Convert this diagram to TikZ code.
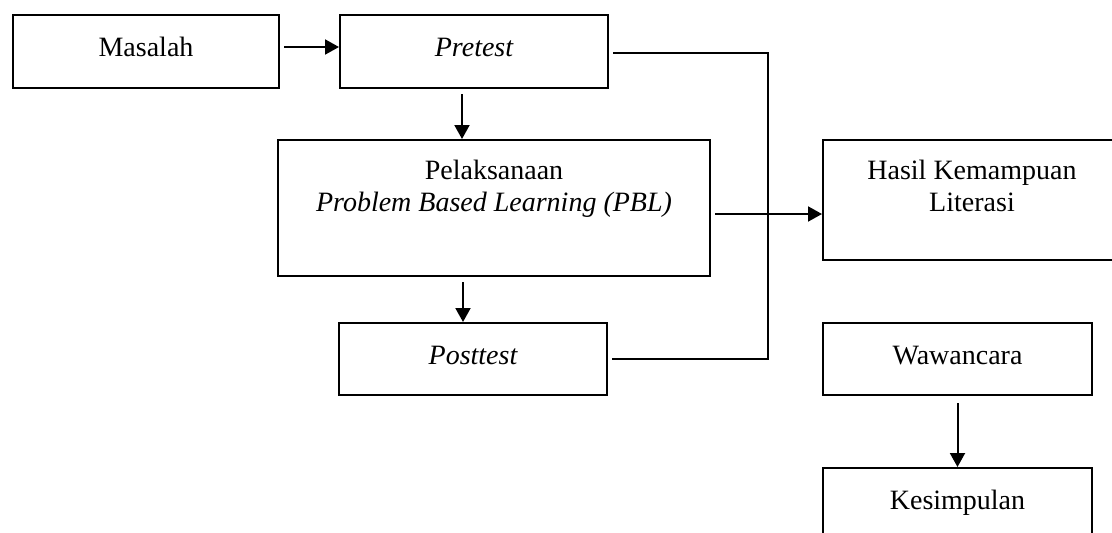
\documentclass[tikz,border=0pt]{standalone}
\usepackage{fontspec}
\setmainfont{Liberation Serif}
\usetikzlibrary{arrows.meta}
\begin{document}
\begin{tikzpicture}[x=1pt,y=-1pt,
  box/.style={draw=black, line width=2pt, rectangle, inner sep=0pt},
  lbl/.style={font=\fontsize{28}{32}\selectfont, text height=20pt, text depth=10pt},
  mtxt/.style={font=\fontsize{28}{32}\selectfont, inner sep=0pt, align=center, anchor=north},
  conn/.style={line width=2pt, line cap=butt},
  arr/.style={conn, -{Triangle[width=15pt,length=14pt]}}
]
\useasboundingbox (0,0) rectangle (1112,533);
\clip (0,0) rectangle (1112,533);
\fill[white] (0,0) rectangle (1112,533);

\node[box, lbl, minimum width=266pt, minimum height=73pt] (m) at (146,51.5) {Masalah};
\node[box, lbl, minimum width=268pt, minimum height=73pt] (pre) at (474,51.5) {\itshape Pretest};
\node[box, minimum width=432pt, minimum height=136pt] (pbl) at (494,208) {};
\node[mtxt] (pbltxt) at ([yshift=-21pt]pbl.north) {Pelaksanaan\\\itshape Problem Based Learning (PBL)};
\node[box, minimum width=298pt, minimum height=120pt] (hasil) at (972,200) {};
\node[mtxt] (hasiltxt) at ([yshift=-21pt]hasil.north) {Hasil Kemampuan\\Literasi};
\node[box, lbl, minimum width=268pt, minimum height=72pt] (post) at (473,359) {\itshape Posttest};
\node[box, lbl, minimum width=269pt, minimum height=72pt] (waw) at (957.5,359) {Wawancara};
\node[box, lbl, minimum width=269pt, minimum height=72pt] (kes) at (957.5,504) {Kesimpulan};

\coordinate (bend) at (768,359);

\draw[arr, shorten <=4pt] ([yshift=4.5pt]m.east) -- ([yshift=4.5pt]pre.west);
\draw[arr, shorten <=5pt] ([xshift=-12pt]pre.south) -- ([xshift=-12pt]pre.south |- pbl.north);
\draw[arr, shorten <=5pt] ([xshift=-10pt]post.north |- pbl.south) -- ([xshift=-10pt]post.north);
\draw[conn, shorten <=4pt, shorten >=4pt] ([yshift=-1.5pt]pre.east) -| (bend) -- (post.east);
\draw[arr, shorten <=4pt] ([yshift=-6pt]pbl.east) -- ([yshift=-6pt]pbl.east -| hasil.west);
\draw[arr, shorten <=7pt] (waw.south) -- (kes.north);
\end{tikzpicture}
\end{document}
